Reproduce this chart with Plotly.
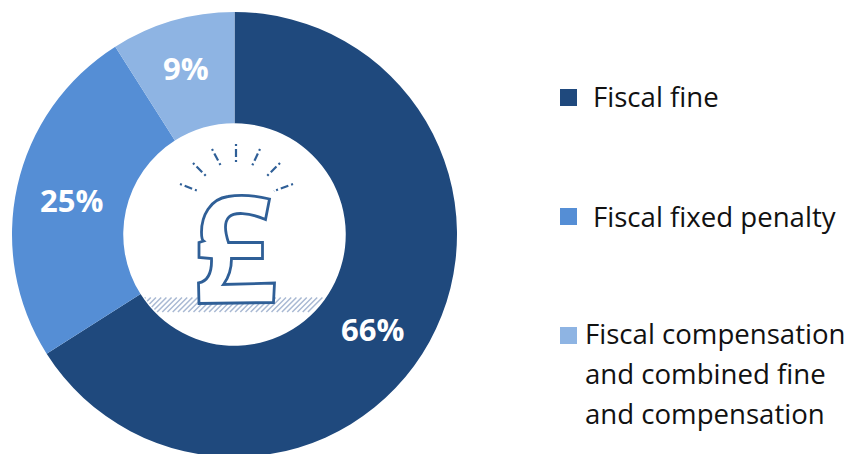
import plotly.graph_objects as go

# Shares of fiscal sanctions by type
categories = ["Fiscal fine", "Fiscal fixed penalty", "Fiscal compensation and combined fine and compensation"]
shares = [66, 25, 9]
legend_lines = [["Fiscal fine"], ["Fiscal fixed penalty"], ["Fiscal compensation", "and combined fine", "and compensation"]]
colors = ["#1f497d", "#558ed5", "#8eb4e3"]

W, H = 848, 458
FONT = "Open Sans"


def px(x):
    return x / W


def py(y):
    return 1 - y / H


def path(points, close=True):
    """Build an SVG path in paper coordinates from pixel points; 3-tuples of pairs are cubic segments."""
    parts = []
    for i, p in enumerate(points):
        if isinstance(p[0], tuple):
            parts.append("C" + " ".join(f"{px(a):.5f},{py(b):.5f}" for a, b in p))
        else:
            parts.append(("M" if i == 0 else "L") + f"{px(p[0]):.5f},{py(p[1]):.5f}")
    return " ".join(parts) + (" Z" if close else "")


fig = go.Figure(go.Pie(
    labels=categories,
    values=shares,
    marker=dict(colors=colors, line=dict(width=0)),
    hole=0.5,
    sort=False,
    direction="clockwise",
    rotation=0,
    textinfo="none",
    hoverinfo="label+percent",
    domain=dict(x=[px(12), px(457)], y=[py(457), py(12)]),
))

shapes = []
annotations = []

# Hatched ground under the pound sign, each stroke clipped to the doughnut hole
cx, cy, r = 234.5, 234.5, 110
top, bottom = 297.5, 312.0
x = 130
while x < 360:
    samples = []
    for k in range(41):
        t = k / 40
        sx = x - t * (bottom - top)
        sy = top + t * (bottom - top)
        if (sx - cx) ** 2 + (sy - cy) ** 2 <= r ** 2:
            samples.append((sx, sy))
    if len(samples) > 1:
        (xa, ya), (xb, yb) = samples[0], samples[-1]
        shapes.append(dict(type="line", xref="paper", yref="paper",
                           x0=px(xa), y0=py(ya), x1=px(xb), y1=py(yb),
                           line=dict(color="#a9b9d3", width=1.5)))
    x += 5.2

# Pound sign outline
pound = [
    (269.5, 199.0),
    ((255, 195.5), (240, 194.5), (228, 196.5)),
    ((210, 199), (201.5, 216), (201.5, 232)),
    ((201.5, 238), (202, 240), (203.5, 241)),
    (199, 242.5), (199, 257.5), (211.5, 258.5),
    ((212, 272), (209, 281), (198.5, 283)),
    (199, 303.5), (273.5, 302.5), (274.5, 283),
    (223.5, 284.5),
    ((229, 277), (231.5, 268), (231.5, 258.5)),
    (262.5, 258.5), (262.5, 242.5), (228.5, 242.5),
    ((225, 232), (224, 222), (229, 217)),
    ((234, 212), (248, 212), (265.5, 219.5)),
]
shapes.append(dict(type="path", xref="paper", yref="paper", path=path(pound),
                   fillcolor="white", line=dict(color="#2f5f97", width=2.8)))

# Rays above the pound sign
rays = [
    ((180, 184), (198, 191)), ((193, 163), (207, 177)), ((212, 149), (221, 166)),
    ((236, 144), (236, 162)), ((260, 149), (252, 166)), ((280, 163), (266, 177)),
    ((293, 184), (274, 191)),
]
for (xa, ya), (xb, yb) in rays:
    shapes.append(dict(type="line", xref="paper", yref="paper",
                       x0=px(xa), y0=py(ya), x1=px(xb), y1=py(yb),
                       line=dict(color="#2f5f97", width=2.2, dash="2px,3px,8px,3px,2px")))

# Value labels on the ring
label_pos = [(372, 329), (71, 200), (186, 68)]
for v, (lx, ly) in zip(shares, label_pos):
    annotations.append(dict(text=f"<b>{v}%</b>", xref="paper", yref="paper", x=px(lx), y=py(ly),
                            xanchor="center", yanchor="middle", showarrow=False,
                            font=dict(family=FONT, size=31, color="white")))

# Hand-placed legend so the wrapped entry lines up with its swatch
swatch_tops = [89, 208, 327]
text_lefts = [591, 591, 583]
first_line_centres = [96, 216, 333]
line_step = 40
for color, lines, top_y, lx, ly in zip(colors, legend_lines, swatch_tops, text_lefts, first_line_centres):
    shapes.append(dict(type="rect", xref="paper", yref="paper",
                       x0=px(560), x1=px(577), y0=py(top_y), y1=py(top_y + 17),
                       fillcolor=color, line=dict(width=0)))
    for i, line in enumerate(lines):
        annotations.append(dict(text=line, xref="paper", yref="paper", x=px(lx), y=py(ly + i * line_step),
                                xanchor="left", yanchor="middle", showarrow=False,
                                font=dict(family=FONT, size=27.6, color="#111111")))

fig.update_layout(
    width=W, height=H,
    margin=dict(l=0, r=0, t=0, b=0),
    paper_bgcolor="white",
    showlegend=False,
    shapes=shapes,
    annotations=annotations,
)

fig.write_html("out.html", config={"displayModeBar": False},
               post_script="document.body.style.overflow='hidden';document.documentElement.style.overflow='hidden';")
